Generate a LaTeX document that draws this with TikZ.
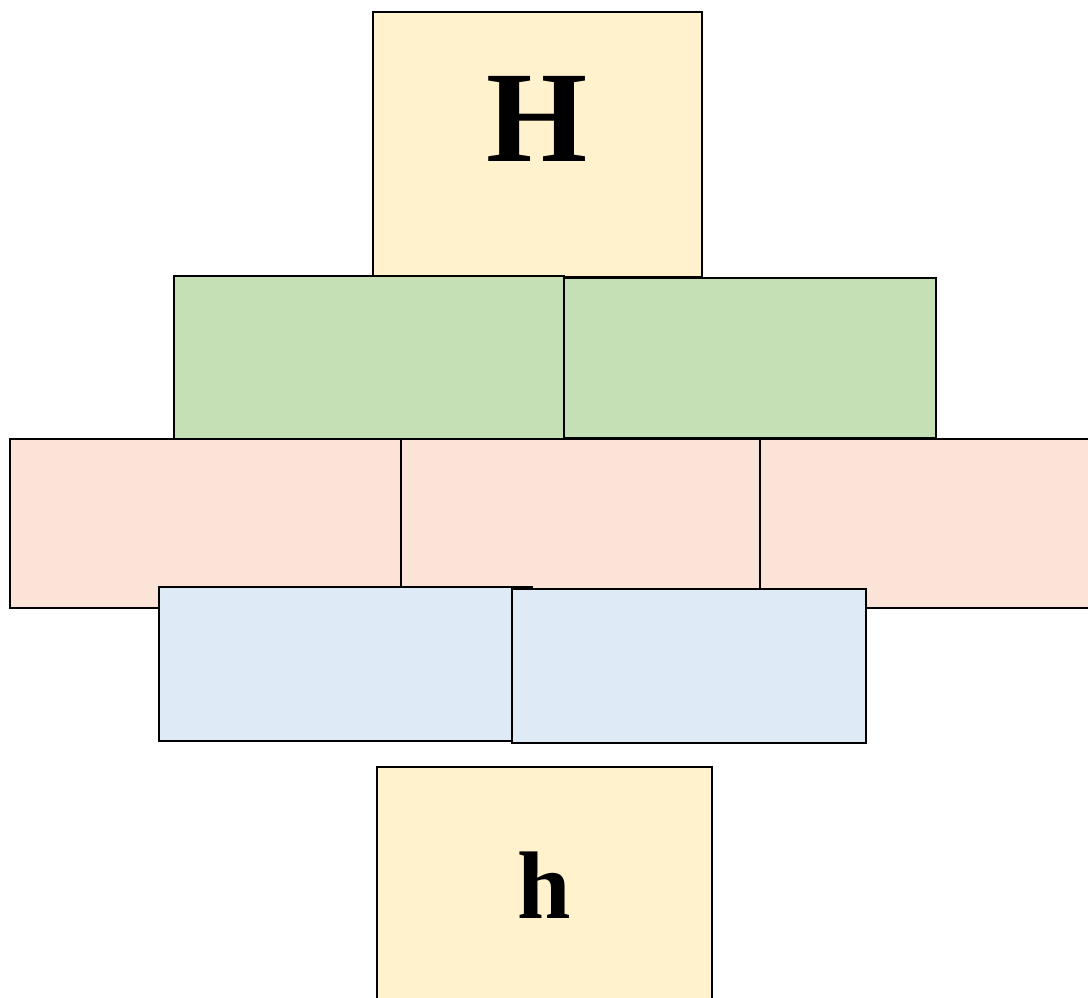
\documentclass[tikz,border=0pt]{standalone}
\usepackage{fontspec}
\setmainfont{Liberation Serif}
\usepackage{tikz}
\usetikzlibrary{positioning}

\definecolor{boxyellow}{HTML}{FFF2CC}
\definecolor{boxgreen}{HTML}{C5E0B4}
\definecolor{boxpink}{HTML}{FBE4D7}
\definecolor{boxblue}{HTML}{DEEAF6}

\begin{document}
\begin{tikzpicture}[
    x=1pt, y=-1pt,
    block/.style={
        rectangle,
        draw=black, line width=2pt,
        inner sep=0pt, outer sep=0pt,
        anchor=north west
    },
    capbox/.style={block, fill=boxyellow, font=\bfseries\fontsize{130}{130}\selectfont},
    greenbox/.style={block, fill=boxgreen, minimum height=163pt},
    pinkbox/.style={block, fill=boxpink, minimum height=169pt},
    bluebox/.style={block, fill=boxblue, minimum height=154pt}
]
\useasboundingbox (0,0) rectangle (1088,997);
\clip (0,0) rectangle (1088,997);

% Top
\node[capbox, minimum width=329pt, minimum height=265pt, text depth=52pt] (top) at (373,12) {H};

% Pink row
\node[pinkbox, minimum width=391pt] (pinkL) at (10,439) {};
\node[pinkbox, minimum width=359pt, right=0pt of pinkL] (pinkM) {};
\node[pinkbox, minimum width=340pt, right=0pt of pinkM] (pinkR) {};

% Green row
\node[greenbox, minimum width=372pt, minimum height=160pt] (greenR) at (564,278) {};
\node[greenbox, minimum width=390pt] (greenL) at (174,276) {};

% Blue row
\node[bluebox, minimum width=373pt] (blueL) at (159,587) {};
\node[bluebox, minimum width=354pt] (blueR) at (512,589) {};

% Bottom
\node[capbox, font=\bfseries\fontsize{96}{96}\selectfont, minimum width=335pt, minimum height=236pt] (bottom) at (377,767) {h};

\end{tikzpicture}
\end{document}
